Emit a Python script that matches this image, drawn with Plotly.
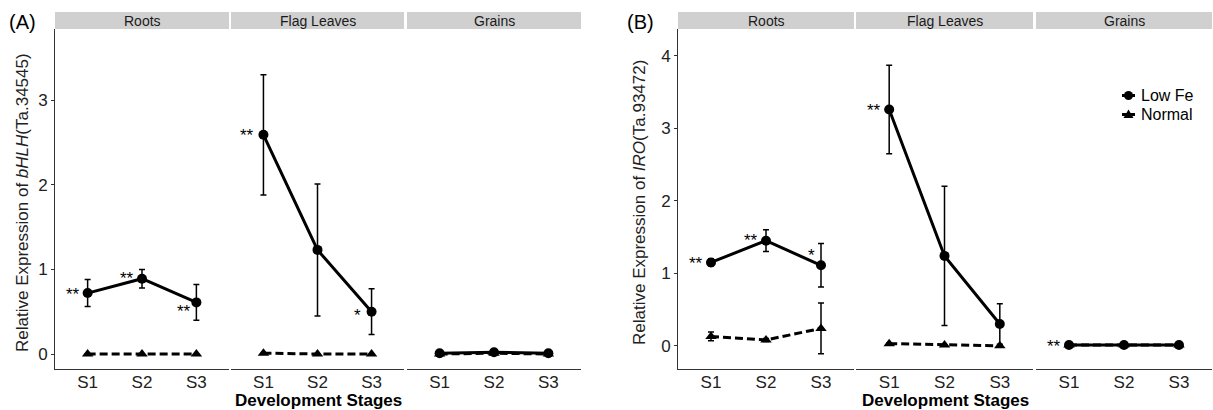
import plotly.graph_objects as go

# ---- data -------------------------------------------------------------
stages = ["S1", "S2", "S3"]
tissues = ["Roots", "Flag Leaves", "Grains"]

# Panel (A): bHLH (Ta.34545)
a_low_roots = [0.72, 0.89, 0.61]
a_low_roots_err = [0.16, 0.11, 0.21]
a_low_flag = [2.59, 1.23, 0.50]
a_low_flag_err = [0.71, 0.78, 0.27]
a_low_grains = [0.01, 0.02, 0.01]
a_low_grains_err = [0.01, 0.01, 0.01]
a_norm_roots = [0.0, 0.0, 0.0]
a_norm_roots_err = [0.0, 0.0, 0.0]
a_norm_flag = [0.01, 0.0, 0.0]
a_norm_flag_err = [0.0, 0.0, 0.0]
a_norm_grains = [0.0, 0.01, 0.0]
a_norm_grains_err = [0.0, 0.0, 0.0]

# Panel (B): IRO (Ta.93472)
b_low_roots = [1.15, 1.45, 1.11]
b_low_roots_err = [0.05, 0.15, 0.30]
b_low_flag = [3.26, 1.24, 0.30]
b_low_flag_err = [0.61, 0.96, 0.28]
b_low_grains = [0.01, 0.01, 0.01]
b_low_grains_err = [0.01, 0.01, 0.01]
b_norm_roots = [0.13, 0.08, 0.24]
b_norm_roots_err = [0.06, 0.02, 0.35]
b_norm_flag = [0.03, 0.01, 0.0]
b_norm_flag_err = [0.01, 0.0, 0.0]
b_norm_grains = [0.01, 0.01, 0.01]
b_norm_grains_err = [0.0, 0.0, 0.0]

# significance marks: (tissue index, stage index, label)
a_sig = [(0, 0, "**"), (0, 1, "**"), (0, 2, "**"), (1, 0, "**"), (1, 2, "*")]
b_sig = [(0, 0, "**"), (0, 1, "**"), (0, 2, "*"), (1, 0, "**"), (2, 0, "**")]

a_ticks = [0, 1, 2, 3]
b_ticks = [0, 1, 2, 3, 4]

# ---- layout helpers ---------------------------------------------------
W, H = 1213, 410
FONT = "Liberation Sans, Arial, Helvetica, sans-serif"


def px(x):
    return x / W


def py(y):
    return 1 - y / H


PLOT_TOP, PLOT_BOTTOM = 29, 369
STRIP_TOP = 12
y_dom = [py(PLOT_BOTTOM), py(PLOT_TOP)]

a_doms = [(55, 229), (231, 404), (407, 581)]
b_doms = [(678, 854), (856, 1033), (1036, 1212)]

AXIS_COLOR = "#333333"

fig = go.Figure()
layout = dict(
    width=W, height=H,
    margin=dict(l=0, r=0, t=0, b=0),
    paper_bgcolor="white", plot_bgcolor="white",
    showlegend=False,
    font=dict(family=FONT, color="black"),
    shapes=[], annotations=[],
)


def add_panel(doms, yname, yrange, ticks, low, low_err, norm, norm_err, x_offset):
    for i, (x0, x1) in enumerate(doms):
        n = x_offset + i + 1
        xk = "xaxis" if n == 1 else f"xaxis{n}"
        xr = "x" if n == 1 else f"x{n}"
        layout[xk] = dict(
            domain=[px(x0), px(x1)], anchor=yname,
            type="category", categoryorder="array", categoryarray=stages,
            range=[-0.6, 2.6], showgrid=False, zeroline=False,
            showline=True, linecolor=AXIS_COLOR, linewidth=1,
            ticks="", tickfont=dict(size=17, family=FONT, color="#222"),
            ticklabelstandoff=-2, fixedrange=True,
        )
        # facet strip
        layout["shapes"].append(dict(
            type="rect", xref="paper", yref="paper",
            x0=px(x0), x1=px(x1), y0=py(PLOT_TOP), y1=py(STRIP_TOP),
            fillcolor="#D0D0D0", line=dict(width=0), layer="below"))
        layout["annotations"].append(dict(
            xref="paper", yref="paper", x=(px(x0) + px(x1)) / 2,
            y=(py(PLOT_TOP) + py(STRIP_TOP)) / 2, text=tissues[i],
            showarrow=False, xanchor="center", yanchor="middle",
            font=dict(size=14, family=FONT, color="#1a1a1a")))
        yr = yname
        # Normal: dashed line with triangles
        fig.add_trace(go.Scatter(
            x=stages, y=norm[i], xaxis=xr, yaxis=yr, mode="lines+markers",
            line=dict(color="black", width=3, dash="8px,4px"),
            marker=dict(symbol="triangle-up", size=10, color="black"),
            error_y=dict(type="data", array=norm_err[i], color="black",
                         thickness=1.5, width=3, visible=True),
            name="Normal", hoverinfo="skip"))
        # Low Fe: solid line with circles
        fig.add_trace(go.Scatter(
            x=stages, y=low[i], xaxis=xr, yaxis=yr, mode="lines+markers",
            line=dict(color="black", width=3),
            marker=dict(symbol="circle", size=10, color="black"),
            error_y=dict(type="data", array=low_err[i], color="black",
                         thickness=1.5, width=3, visible=True),
            name="Low Fe", hoverinfo="skip"))

    first = x_offset + 1
    yk = "yaxis" if yname == "y" else "yaxis" + yname[1:]
    layout[yk] = dict(
        domain=y_dom, anchor="x" if first == 1 else f"x{first}",
        range=yrange, tickvals=ticks, ticktext=[str(t) for t in ticks],
        showgrid=False, zeroline=False, showline=True,
        linecolor=AXIS_COLOR, linewidth=1, ticks="outside", ticklen=3,
        tickcolor=AXIS_COLOR, tickfont=dict(size=17, family=FONT, color="#222"),
        fixedrange=True,
    )
    return [("x" if x_offset + i + 1 == 1 else f"x{x_offset + i + 1}") for i in range(3)]


a_low = [a_low_roots, a_low_flag, a_low_grains]
a_low_e = [a_low_roots_err, a_low_flag_err, a_low_grains_err]
a_norm = [a_norm_roots, a_norm_flag, a_norm_grains]
a_norm_e = [a_norm_roots_err, a_norm_flag_err, a_norm_grains_err]
b_low = [b_low_roots, b_low_flag, b_low_grains]
b_low_e = [b_low_roots_err, b_low_flag_err, b_low_grains_err]
b_norm = [b_norm_roots, b_norm_flag, b_norm_grains]
b_norm_e = [b_norm_roots_err, b_norm_flag_err, b_norm_grains_err]

a_x = add_panel(a_doms, "y", [-0.177, 3.84], a_ticks, a_low, a_low_e, a_norm, a_norm_e, 0)
b_x = add_panel(b_doms, "y2", [-0.32, 4.37], b_ticks, b_low, b_low_e, b_norm, b_norm_e, 3)

# star offsets (px) relative to the Low Fe point: (dx, dy up)
a_star_off = [(-15, 3), (-15, 4), (-12, -5), (-16, 3), (-14, 0)]
b_star_off = [(-15, 3), (-15, 4), (-9, 14), (-15, 3), (-15, 3)]
STAR_LIFT = 4  # asterisk glyph sits above the text box centre


def add_stars(sig, offs, xrefs, yref, low):
    for (ti, si, lab), (dx, dy) in zip(sig, offs):
        layout["annotations"].append(dict(
            xref=xrefs[ti], yref=yref, x=stages[si], y=low[ti][si],
            text=lab, showarrow=False, xanchor="center", yanchor="middle",
            xshift=dx, yshift=dy - STAR_LIFT,
            font=dict(size=17, family=FONT, color="black")))


add_stars(a_sig, a_star_off, a_x, "y", a_low)
add_stars(b_sig, b_star_off, b_x, "y2", b_low)

# panel letters, axis titles
for lab, x in (("(A)", 22), ("(B)", 640)):
    layout["annotations"].append(dict(
        xref="paper", yref="paper", x=px(x), y=py(22), text=lab,
        showarrow=False, xanchor="center", yanchor="middle",
        font=dict(size=20, family=FONT, color="black")))
for txt, x in (("Relative Expression of <i>bHLH</i>(Ta.34545)", 22),
               ("Relative Expression of <i>IRO</i>(Ta.93472)", 639)):
    layout["annotations"].append(dict(
        xref="paper", yref="paper", x=px(x), y=py(203), text=txt,
        textangle=-90, showarrow=False, xanchor="center", yanchor="middle",
        font=dict(size=17, family=FONT, color="#222")))
for x in ((55 + 581) / 2, (678 + 1212) / 2):
    layout["annotations"].append(dict(
        xref="paper", yref="paper", x=px(x), y=py(400),
        text="<b>Development Stages</b>", showarrow=False,
        xanchor="center", yanchor="middle",
        font=dict(size=17, family=FONT, color="black")))

# legend (panel B)
leg_items = [("Low Fe", "circle", 95.5), ("Normal", "triangle", 114.5)]
for name, sym, yy in leg_items:
    layout["shapes"].append(dict(
        type="line", xref="paper", yref="paper",
        x0=px(1122), x1=px(1135), y0=py(yy), y1=py(yy),
        line=dict(color="black", width=3)))
    if sym == "circle":
        layout["shapes"].append(dict(
            type="circle", xref="paper", yref="paper",
            x0=px(1124), x1=px(1133), y0=py(yy + 4.5), y1=py(yy - 4.5),
            fillcolor="black", line=dict(width=0)))
    else:
        layout["shapes"].append(dict(
            type="path", xref="paper", yref="paper",
            path=(f"M {px(1123.5)} {py(yy + 3.5)} L {px(1133.5)} {py(yy + 3.5)} "
                  f"L {px(1128.5)} {py(yy - 5)} Z"),
            fillcolor="black", line=dict(width=0)))
    layout["annotations"].append(dict(
        xref="paper", yref="paper", x=px(1139), y=py(yy), text=name,
        showarrow=False, xanchor="left", yanchor="middle",
        font=dict(size=16, family=FONT, color="black")))

fig.update_layout(**layout)
fig.write_html("out.html")
